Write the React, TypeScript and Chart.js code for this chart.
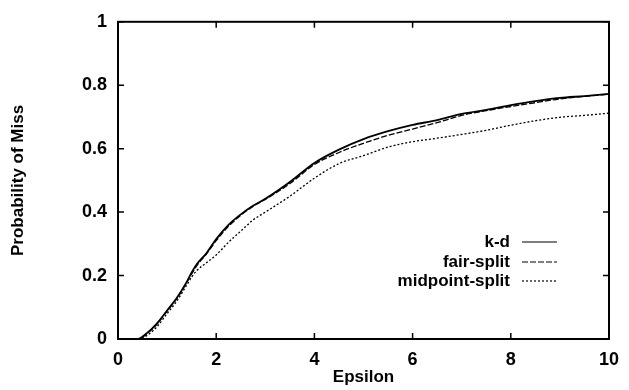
import React, { useEffect, useRef } from "react";
import { Chart, registerables } from "chart.js";

Chart.register(...registerables);

// ---- data ----
const epsilon = [0, 0.4, 0.6, 0.8, 1.0, 1.2, 1.4, 1.5, 1.6, 1.8, 2.0, 2.25, 2.5, 2.75, 3.0, 3.5, 4.0, 4.5, 5.0, 5.5, 6.0, 6.5, 7.0, 7.5, 8.0, 8.5, 9.0, 9.5, 10];
const kd = [0, 0, 0.02, 0.05, 0.09, 0.13, 0.18, 0.21, 0.235, 0.27, 0.315, 0.36, 0.393, 0.42, 0.442, 0.495, 0.555, 0.597, 0.63, 0.655, 0.675, 0.69, 0.71, 0.722, 0.737, 0.75, 0.76, 0.766, 0.773];
const fairSplit = [0, 0, 0.018, 0.048, 0.088, 0.128, 0.178, 0.205, 0.23, 0.268, 0.31, 0.355, 0.39, 0.418, 0.44, 0.49, 0.55, 0.588, 0.617, 0.642, 0.662, 0.682, 0.705, 0.72, 0.733, 0.745, 0.757, 0.765, 0.772];
const midpointSplit = [0, 0, 0.012, 0.04, 0.08, 0.12, 0.17, 0.195, 0.215, 0.24, 0.265, 0.305, 0.34, 0.375, 0.4, 0.45, 0.507, 0.553, 0.578, 0.605, 0.622, 0.633, 0.645, 0.658, 0.674, 0.688, 0.699, 0.705, 0.712];
const seriesNames = ["k-d", "fair-split", "midpoint-split"];
const xTicks = [0, 2, 4, 6, 8, 10];
const yTicks = [0, 0.2, 0.4, 0.6, 0.8, 1];
const xTitle = "Epsilon";
const yTitle = "Probability of Miss";

const FONT = "'Liberation Sans', Arial, Helvetica, sans-serif";

const framePlugin = {
  id: "frameAndLegend",
  afterDatasetsDraw(chart: any) {
    const { ctx, chartArea, scales } = chart;
    const { left, right, top, bottom } = chartArea;
    const x = scales.x;
    const y = scales.y;
    ctx.save();
    ctx.strokeStyle = "#000";
    ctx.setLineDash([]);
    ctx.lineWidth = 2;
    ctx.strokeRect(left, top, right - left, bottom - top);
    ctx.lineWidth = 1.5;
    ctx.beginPath();
    const tl = 6;
    xTicks.forEach((v) => {
      const px = x.getPixelForValue(v);
      ctx.moveTo(px, bottom);
      ctx.lineTo(px, bottom - tl);
      ctx.moveTo(px, top);
      ctx.lineTo(px, top + tl);
    });
    yTicks.forEach((v) => {
      const py = y.getPixelForValue(v);
      ctx.moveTo(left, py);
      ctx.lineTo(left + tl, py);
      ctx.moveTo(right, py);
      ctx.lineTo(right - tl, py);
    });
    ctx.stroke();

    // legend inside the plot, lower right
    const textRight = right - 99;
    const lineStart = right - 87;
    const lineEnd = right - 52;
    const rowY = [bottom - 97, bottom - 77, bottom - 58];
    ctx.font = `bold 17px ${FONT}`;
    ctx.fillStyle = "#000";
    ctx.textAlign = "right";
    ctx.textBaseline = "middle";
    chart.data.datasets.forEach((ds: any, i: number) => {
      const yy = rowY[i];
      ctx.fillText(ds.label, textRight, yy);
      ctx.beginPath();
      ctx.lineWidth = 1.2;
      ctx.setLineDash(ds.borderDash || []);
      ctx.moveTo(lineStart, yy);
      ctx.lineTo(lineEnd, yy);
      ctx.stroke();
    });
    ctx.restore();
  },
};

export default function App() {
  const ref = useRef<HTMLCanvasElement | null>(null);

  useEffect(() => {
    if (!ref.current) return;
    const mk = (vals: number[]) => epsilon.map((e, i) => ({ x: e, y: vals[i] }));
    const chart = new Chart(ref.current, {
      type: "line",
      data: {
        datasets: [
          { label: seriesNames[0], data: mk(kd), borderColor: "#000", borderWidth: 1.8, pointRadius: 0, borderDash: [], cubicInterpolationMode: "monotone" },
          { label: seriesNames[1], data: mk(fairSplit), borderColor: "#000", borderWidth: 1.3, pointRadius: 0, borderDash: [6, 2], cubicInterpolationMode: "monotone" },
          { label: seriesNames[2], data: mk(midpointSplit), borderColor: "#000", borderWidth: 1.3, pointRadius: 0, borderDash: [2, 2], cubicInterpolationMode: "monotone" },
        ],
      },
      options: {
        responsive: false,
        animation: false,
        layout: { padding: { top: 16, right: 12, left: 0, bottom: 0 } },
        plugins: { legend: { display: false }, tooltip: { enabled: false } },
        scales: {
          x: {
            type: "linear",
            min: 0,
            max: 10,
            afterBuildTicks: (s: any) => {
              s.ticks = xTicks.map((v) => ({ value: v }));
            },
            afterFit: (s: any) => {
              s.height = 51;
            },
            grid: { display: false, drawTicks: false },
            border: { display: false },
            ticks: { padding: 10, color: "#000", maxRotation: 0, callback: (v: any) => String(Number(v)), font: { family: FONT, size: 18, weight: "bold" } },
            title: { display: true, text: xTitle, color: "#000", padding: { top: 0, bottom: 2 }, font: { family: FONT, size: 17, weight: "bold" } },
          },
          y: {
            type: "linear",
            min: 0,
            max: 1,
            afterBuildTicks: (s: any) => {
              s.ticks = yTicks.map((v) => ({ value: v }));
            },
            afterFit: (s: any) => {
              s.width = 118;
            },
            grid: { display: false, drawTicks: false },
            border: { display: false },
            ticks: { padding: 11, color: "#000", callback: (v: any) => String(Number(v)), font: { family: FONT, size: 18, weight: "bold" } },
            title: { display: true, text: yTitle, color: "#000", padding: { top: 8, bottom: 0 }, font: { family: FONT, size: 17, weight: "bold" } },
          },
        },
      } as any,
      plugins: [framePlugin],
    });
    return () => chart.destroy();
  }, []);

  return (
    <div style={{ position: "absolute", left: 0, top: 0, width: 629, height: 390, background: "#fff" }}>
      <canvas ref={ref} width={629} height={390} style={{ display: "block" }} />
    </div>
  );
}
